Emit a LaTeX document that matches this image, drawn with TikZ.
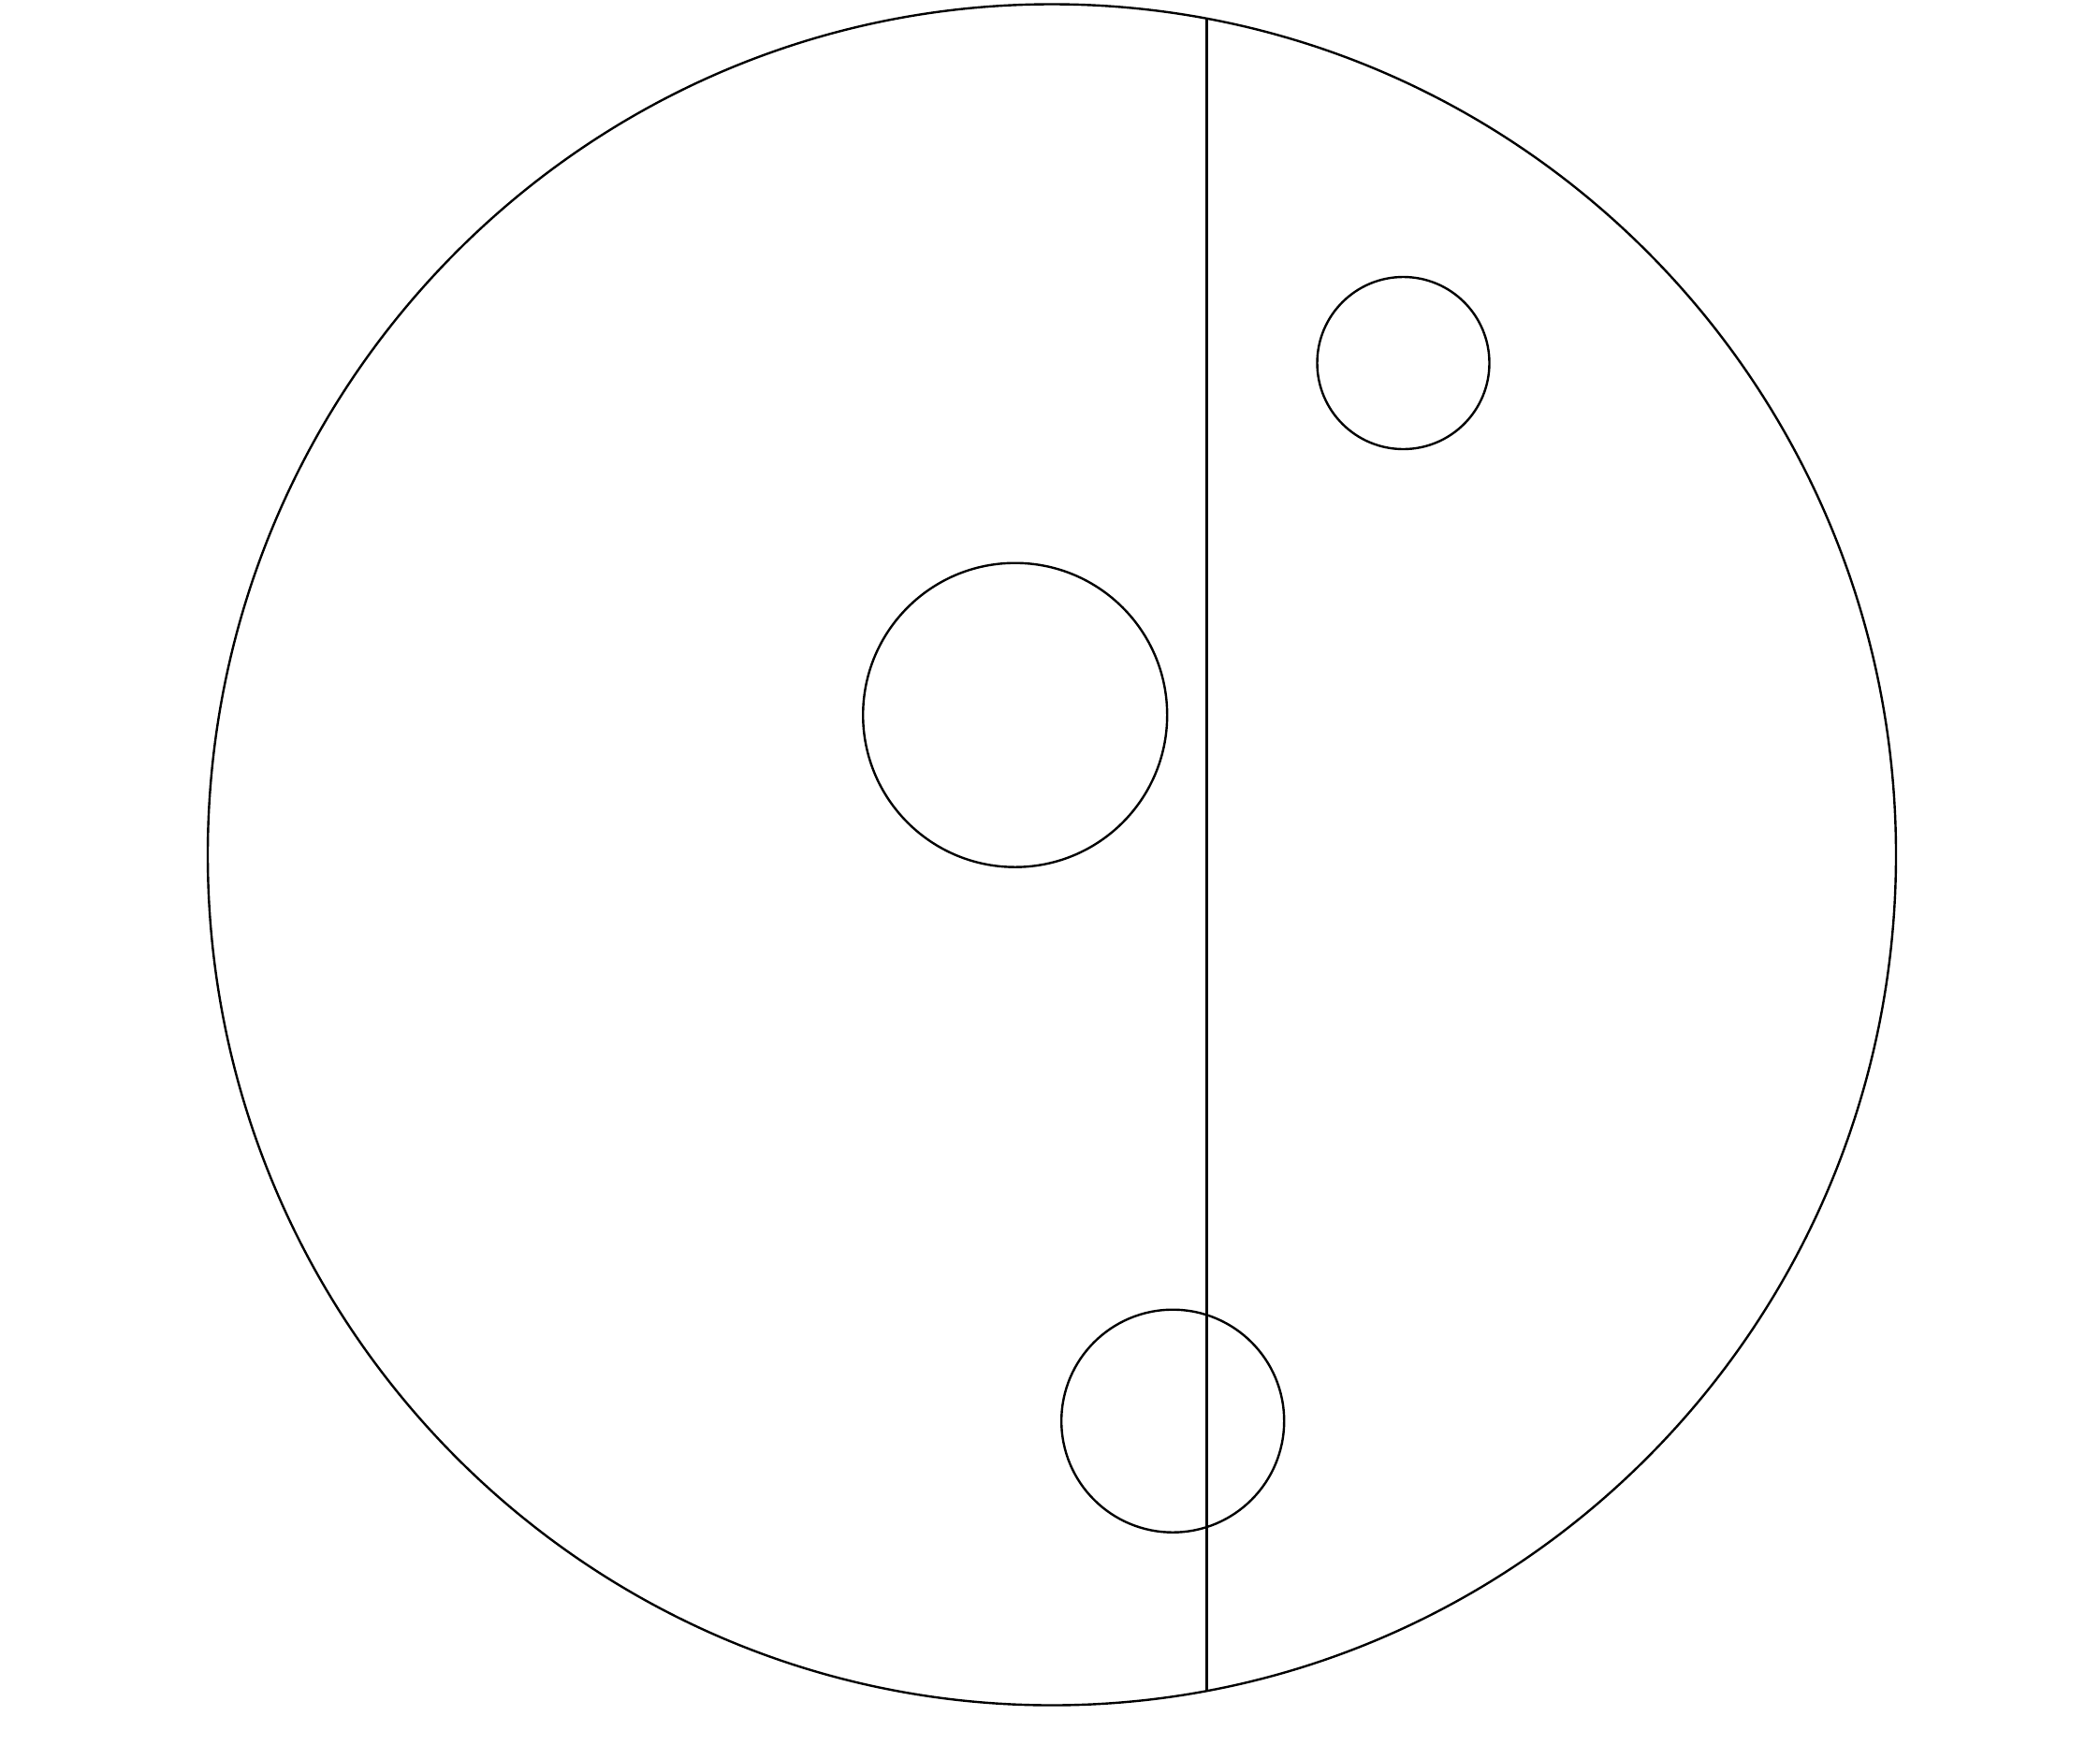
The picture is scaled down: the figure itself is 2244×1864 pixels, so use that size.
\documentclass[tikz,border=0pt]{standalone}
\begin{document}
\begin{tikzpicture}[x=1pt,y=-1pt,line width=2.4pt,
  ring/.style={draw,circle,inner sep=0pt,line width=2.4pt}]
\useasboundingbox (0,0) rectangle (2244,1864);
\draw (1124,913.5) ellipse [x radius=902, y radius=909];
\coordinate (top) at (1289.3,19);
\coordinate (bot) at (1289.3,1807);
\draw (top) -- (bot);
\node[ring,minimum size=184pt] (c1) at (1499.5,388) {};
\node[ring,minimum size=325pt] (c2) at (1084.7,764.2) {};
\node[ring,minimum size=238pt] (c3) at (1253.2,1518.7) {};
\end{tikzpicture}
\end{document}
